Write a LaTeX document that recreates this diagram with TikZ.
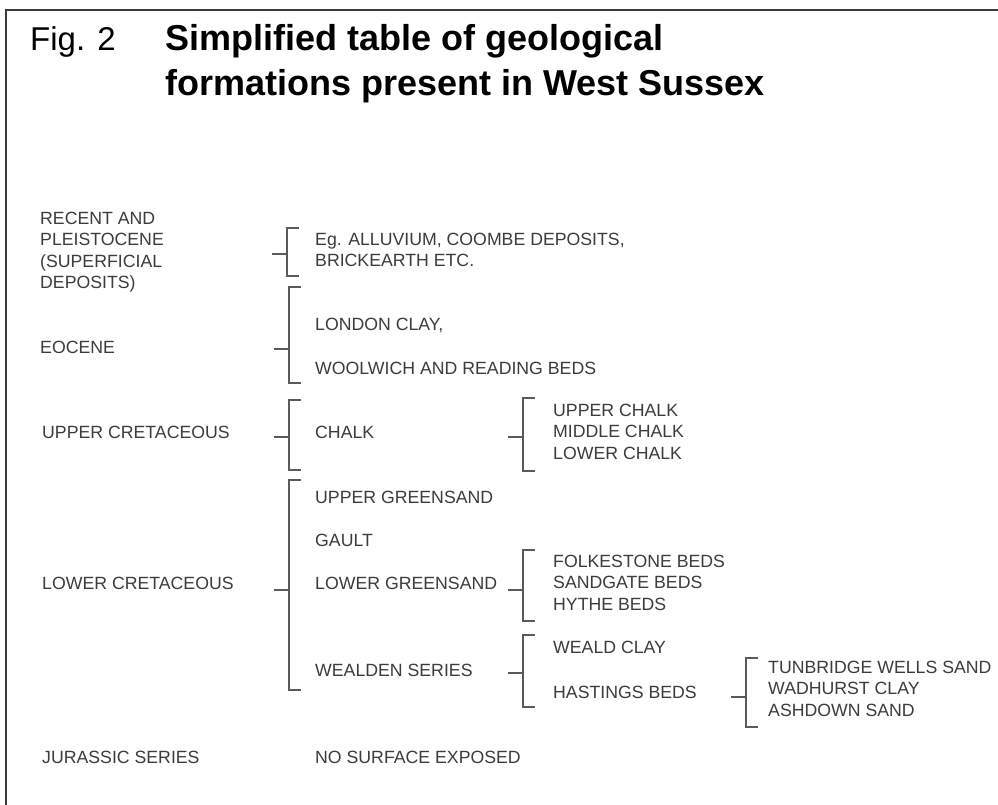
\documentclass[tikz,border=0pt]{standalone}
\usepackage{fontspec}
\setmainfont{Liberation Sans}
\definecolor{txtgray}{HTML}{3C3C3C}
\definecolor{linegray}{HTML}{5A5A5A}
\definecolor{framegray}{HTML}{3A3A3A}
\newcommand\geobracket[5]{%
  \coordinate (#1) at (#2,#5);
  \draw[brk] ({#2+12},#3) -- (#2,#3) -- (#2,#4) -- ({#2+12},#4);
  \draw[brk] (#1) -- ++(-15,0);}
\begin{document}
\begin{tikzpicture}[x=1pt,y=-1pt,
  lbl/.style={anchor=base west, inner sep=0pt, font=\fontsize{17.7}{21.5}\selectfont, text=txtgray, align=left},
  brk/.style={draw=linegray, line width=1.8pt},
  ttl/.style={anchor=base west, inner sep=0pt, align=left, font=\fontsize{36}{45}\selectfont\bfseries}]
\useasboundingbox (0,0) rectangle (998,805);
\fill[white] (0,0) rectangle (998,805);
\draw[framegray, line width=2.5pt] (6,805) -- (6,10) -- (998,10);

% title (base anchor = baseline of the last line)
\node[anchor=base west, inner sep=0pt, font=\fontsize{33}{40}\selectfont] (fig) at (30,51) {Fig. 2};
\node[ttl] (title) at (165,96) {Simplified table of geological\\formations present in West Sussex};

% column 1
\node[lbl] (recent) at (40,288.5) {RECENT AND\\PLEISTOCENE\\(SUPERFICIAL\\DEPOSITS)};
\node[lbl] (eocene) at (40,353) {EOCENE};
\node[lbl] (uppcret) at (42,438) {UPPER CRETACEOUS};
\node[lbl] (lowcret) at (42,589) {LOWER CRETACEOUS};
\node[lbl] (jura) at (42,763) {JURASSIC SERIES};

% column 2
\node[lbl] (alluv) at (315,266.5) {Eg. ALLUVIUM, COOMBE DEPOSITS,\\BRICKEARTH ETC.};
\node[lbl] (london) at (315,330) {LONDON CLAY,};
\node[lbl] (woolwich) at (315,374) {WOOLWICH AND READING BEDS};
\node[lbl] (chalk) at (315,438) {CHALK};
\node[lbl] (uppgreen) at (315,503) {UPPER GREENSAND};
\node[lbl] (gault) at (315,546) {GAULT};
\node[lbl] (lowgreen) at (315,589) {LOWER GREENSAND};
\node[lbl] (wealden) at (315,676) {WEALDEN SERIES};
\node[lbl] (nosurf) at (315,763) {NO SURFACE EXPOSED};

% column 3
\node[lbl] (chalks) at (553,459) {UPPER CHALK\\MIDDLE CHALK\\LOWER CHALK};
\node[lbl] (folk) at (553,610) {FOLKESTONE BEDS\\SANDGATE BEDS\\HYTHE BEDS};
\node[lbl] (weald) at (553,653) {WEALD CLAY};
\node[lbl] (hast) at (553,698) {HASTINGS BEDS};

% column 4
\node[lbl] (tunb) at (768,716) {TUNBRIDGE WELLS SAND\\WADHURST CLAY\\ASHDOWN SAND};

% brackets
\geobracket{b1}{287}{228}{276}{254}
\geobracket{b2}{289}{287}{383}{349}
\geobracket{b3}{289}{400}{470}{437}
\geobracket{b4}{289}{480}{690}{590}
\geobracket{b5}{523}{398}{471}{437}
\geobracket{b6}{523}{550}{621}{590}
\geobracket{b7}{523}{635}{707}{673}
\geobracket{b8}{746}{658}{727}{697}
\end{tikzpicture}
\end{document}
